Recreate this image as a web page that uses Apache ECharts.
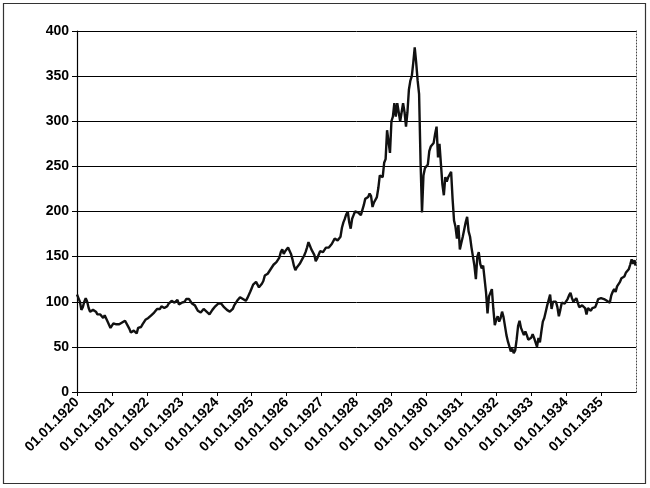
<!DOCTYPE html>
<html>
<head>
<meta charset="utf-8">
<script src="https://cdn.jsdelivr.net/npm/echarts@6/dist/echarts.min.js"></script>
<style>
html,body{margin:0;padding:0;background:#fff;}
#c{width:650px;height:488px;}
</style>
</head>
<body>
<div id="c"></div>
<script>
// Semi-monthly readings (1st and 16th of each month)
const v1920 = [108,104,100,91,94,100,104,100,93,89,91,91,90,89,86,85,86,87,82,85,85,78,77,71];
const v1921 = [72,76,76,75,74,75,75,77,77,79,78,73,70,66,68,68,66,65,71,70,72,75,77,80];
const v1922 = [81,82,83,85,86,88,89,92,93,92,95,95,93,92,95,98,100,101,100,99,97,102,97,99];
const v1923 = [99,97,100,103,105,103,102,98,97,96,93,90,90,88,89,92,93,89,87,86,88,91,92,95];
const v1924 = [95,98,100,98,96,94,92,91,90,89,89,92,96,98,101,102,105,104,103,103,101,104,106,111];
const v1925 = [115,119,121,122,120,116,117,120,123,129,128,131,132,136,136,141,141,144,145,149,155,158,153,156];
const v1926 = [157,160,162,153,147,140,135,138,140,142,144,148,151,155,160,166,162,158,160,152,145,148,152,156];
const v1927 = [157,155,156,160,161,160,161,164,166,170,172,168,167,172,182,188,192,197,200,188,181,192,196,200];
const v1928 = [202,199,198,196,198,207,214,213,216,220,217,205,210,208,216,226,240,239,238,254,258,290,292,265];
const v1929 = [300,305,320,305,320,310,300,310,320,310,294,310,335,345,350,365,382,365,345,330,255,199,240,248];
const v1930 = [248,252,267,272,270,276,286,294,260,275,274,230,218,238,233,238,240,244,214,190,183,170,185,158];
const v1931 = [165,172,180,188,194,178,172,160,150,140,125,150,155,142,137,140,139,110,87,106,104,114,92,74];
const v1932 = [80,84,78,82,89,83,73,63,56,55,45,48,43,46,58,73,79,71,72,63,67,63,58,58];
const v1933 = [60,64,60,55,50,60,55,67,78,82,89,96,102,108,92,100,102,100,94,84,91,99,98,98];
const v1934 = [100,103,107,110,104,100,100,104,99,94,92,96,97,93,86,93,95,90,93,94,94,98,103,101];
const v1935 = [104,105,103,103,101,100,99,107,111,114,111,117,118,122,126,127,128,132,131,136,141,147,142,146,140];

const years = [1920,1921,1922,1923,1924,1925,1926,1927,1928,1929,1930,1931,1932,1933,1934,1935];
const yearValues = [v1920,v1921,v1922,v1923,v1924,v1925,v1926,v1927,v1928,v1929,v1930,v1931,v1932,v1933,v1934,v1935];
const yTicks = [0,50,100,150,200,250,300,350,400];

const data = [];
years.forEach((yr, k) => {
  const vals = yearValues[k];
  vals.forEach((v, i) => {
    const x = i < 24 ? yr + i / 24 : yr + 0.985;
    data.push([x, v]);
  });
});

const chart = echarts.init(document.getElementById('c'), null, {renderer: 'canvas'});
const font = 'Liberation Sans, Arial, sans-serif';
chart.setOption({
  animation: false,
  backgroundColor: '#fff',
  grid: {left: 77, right: 14, top: 31, bottom: 96, containLabel: false},
  xAxis: {
    type: 'value',
    min: 1920, max: 1936, interval: 1,
    axisLine: {show: true, onZero: false, lineStyle: {color: '#000', width: 1.2}},
    axisTick: {show: true, length: 4, lineStyle: {color: '#000'}},
    splitLine: {show: false},
    axisLabel: {
      rotate: 45, margin: 8, color: '#000', fontWeight: 'bold', fontSize: 14, fontFamily: font,
      showMaxLabel: false,
      formatter: v => '01.01.' + v
    }
  },
  yAxis: [{
    type: 'value',
    min: yTicks[0], max: yTicks[yTicks.length - 1], interval: 50,
    axisLine: {show: true, lineStyle: {color: '#000', width: 1.2}},
    axisTick: {show: true, length: 5, lineStyle: {color: '#000'}},
    splitLine: {show: true, lineStyle: {color: '#000', width: 1}},
    axisLabel: {margin: 8, color: '#000', fontWeight: 'bold', fontSize: 14, fontFamily: font}
  }, {
    type: 'value', position: 'right',
    min: 0, max: 400, interval: 50,
    axisLine: {show: true, lineStyle: {color: '#444', width: 1, type: [1, 2]}},
    axisTick: {show: false}, axisLabel: {show: false}, splitLine: {show: false}
  }],
  series: [{
    type: 'line',
    data: data,
    showSymbol: false,
    lineStyle: {color: '#111', width: 2.4},
    z: 5
  }],
  graphic: [{
    type: 'rect',
    shape: {x: 3.5, y: 3.5, width: 642, height: 480},
    style: {fill: 'none', stroke: '#333', lineWidth: 1.2},
    silent: true
  }]
});
</script>
</body>
</html>
